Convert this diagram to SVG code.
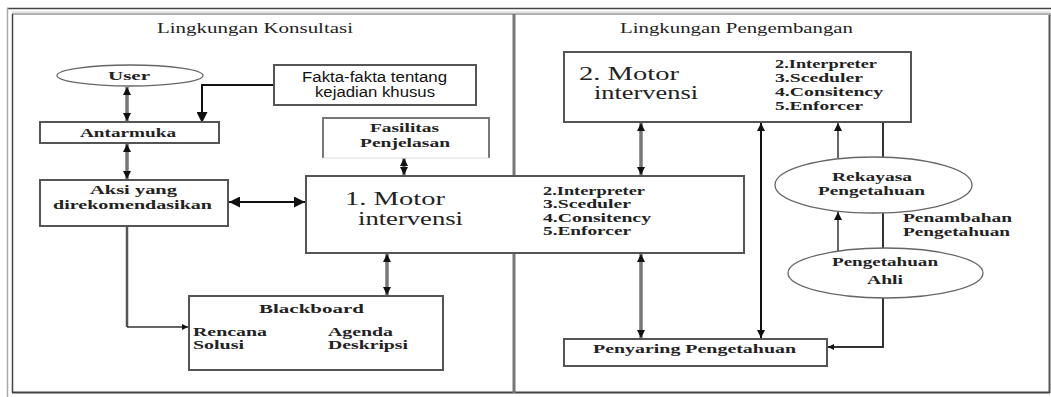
<svg xmlns="http://www.w3.org/2000/svg" width="1051" height="397" viewBox="0 0 1051 397">
<style>
.t{font-family:"Liberation Serif","Times New Roman",serif;fill:#222}
.b{font-weight:bold;font-size:13.5px}
.ttl{font-size:14px}
.big{font-size:18px}
.lst{font-size:13.5px;font-weight:bold}
.sans{font-family:"Liberation Sans",Arial,sans-serif;font-size:14px;fill:#111}
.box{fill:#fff;stroke:#555;stroke-width:2}
.ell{fill:#fff;stroke:#666;stroke-width:1.3}
.dbl{stroke:#777;stroke-width:3.5;fill:none}
.blk{stroke:#111;stroke-width:2;fill:none}
.thin{stroke:#333;stroke-width:1.5;fill:none}
</style>
<defs>
<marker id="ah" viewBox="0 0 10 10" refX="10" refY="5" markerWidth="8" markerHeight="8" markerUnits="userSpaceOnUse" orient="auto-start-reverse"><path d="M0,0 L10,5 L0,10 z" fill="#111"/></marker>
<marker id="ahL" viewBox="0 0 10 10" refX="10" refY="5" markerWidth="11" markerHeight="11" markerUnits="userSpaceOnUse" orient="auto-start-reverse"><path d="M0,0 L10,5 L0,10 z" fill="#111"/></marker>
<marker id="ahS" viewBox="0 0 10 10" refX="10" refY="5" markerWidth="6" markerHeight="6" markerUnits="userSpaceOnUse" orient="auto-start-reverse"><path d="M0,0 L10,5 L0,10 z" fill="#111"/></marker>
</defs>
<rect width="1051" height="397" fill="#fff"/>
<g id="frame">
<line x1="7" y1="8.5" x2="1051" y2="8.5" stroke="#444" stroke-width="1.5"/>
<line x1="7.5" y1="8" x2="7.5" y2="397" stroke="#aaa" stroke-width="1.5"/>
<line x1="12" y1="12" x2="1051" y2="12" stroke="#ccc" stroke-width="1"/>
<line x1="12" y1="14" x2="1051" y2="14" stroke="#999" stroke-width="1.5"/>
<line x1="12.5" y1="14" x2="12.5" y2="393" stroke="#444" stroke-width="1.5"/>
<line x1="1049.5" y1="15" x2="1049.5" y2="393" stroke="#555" stroke-width="2"/>
<line x1="12" y1="392.5" x2="1050" y2="392.5" stroke="#444" stroke-width="2"/>
<line x1="514" y1="14" x2="514" y2="393" stroke="#777" stroke-width="3"/>
<text class="t ttl" x="157" y="33" textLength="196" lengthAdjust="spacingAndGlyphs">Lingkungan Konsultasi</text>
<text class="t ttl" x="620" y="33" textLength="233" lengthAdjust="spacingAndGlyphs">Lingkungan Pengembangan</text>
</g>
<g id="connectors">
<line class="dbl" x1="127" y1="87" x2="127" y2="121" marker-start="url(#ah)" marker-end="url(#ah)"/>
<line class="dbl" x1="127" y1="144" x2="127" y2="179" marker-start="url(#ah)" marker-end="url(#ah)"/>
<path class="blk" d="M274,85 H202 V123" stroke-width="2.5" marker-end="url(#ahL)"/>
<line class="dbl" x1="404" y1="158" x2="404" y2="175" marker-start="url(#ah)" marker-end="url(#ah)"/>
<line class="blk" x1="229" y1="202" x2="305" y2="202" marker-start="url(#ahL)" marker-end="url(#ahL)"/>
<path d="M127,227 V327" stroke="#555" stroke-width="2.5" fill="none"/>
<path class="thin" d="M127,327 H188" marker-end="url(#ahS)"/>
<line class="dbl" x1="387" y1="254" x2="387" y2="295" marker-start="url(#ah)" marker-end="url(#ah)"/>
<line class="dbl" x1="641" y1="123" x2="641" y2="175" marker-start="url(#ah)" marker-end="url(#ah)"/>
<line class="dbl" x1="641" y1="254" x2="641" y2="338" marker-start="url(#ah)" marker-end="url(#ah)"/>
<line class="blk" x1="761" y1="123" x2="761" y2="338" marker-start="url(#ah)" marker-end="url(#ah)"/>
<line class="thin" x1="838" y1="158" x2="838" y2="123" marker-end="url(#ah)"/>
<line x1="883" y1="122" x2="883" y2="157" stroke="#333" stroke-width="2"/>
<line class="thin" x1="838" y1="251" x2="838" y2="212" marker-end="url(#ah)"/>
<line x1="883" y1="213" x2="883" y2="248" stroke="#333" stroke-width="2"/>
<path d="M883,298 V347 H828" stroke="#333" stroke-width="2" fill="none" marker-end="url(#ahS)"/>
</g>
<g id="user">
<ellipse class="ell" cx="130" cy="75.5" rx="73" ry="10.5"/>
<text class="t b" x="108" y="80" textLength="42" lengthAdjust="spacingAndGlyphs">User</text>
</g>
<g id="fakta">
<rect class="box" x="274" y="65" width="202" height="40" stroke="#111"/>
<text class="sans" x="302" y="82" textLength="145" lengthAdjust="spacingAndGlyphs">Fakta-fakta tentang</text>
<text class="sans" x="315" y="97" textLength="120" lengthAdjust="spacingAndGlyphs">kejadian khusus</text>
</g>
<g id="antarmuka">
<rect class="box" x="40" y="122" width="179" height="21" stroke="#666" stroke-width="2.5"/>
<text class="t b" x="80" y="137" textLength="96" lengthAdjust="spacingAndGlyphs">Antarmuka</text>
</g>
<g id="fasilitas">
<rect x="323" y="118" width="166" height="40" fill="#fff" stroke="none"/>
<path d="M323,158 V118 H489 V158" fill="none" stroke="#777" stroke-width="2"/>
<line x1="323" y1="158" x2="489" y2="158" stroke="#ddd" stroke-width="1"/>
<text class="t b" x="370" y="132" textLength="69" lengthAdjust="spacingAndGlyphs">Fasilitas</text>
<text class="t b" x="360" y="147" textLength="90" lengthAdjust="spacingAndGlyphs">Penjelasan</text>
</g>
<g id="aksi">
<rect class="box" x="40" y="180" width="188" height="46"/>
<text class="t b" x="90" y="194" textLength="87" lengthAdjust="spacingAndGlyphs">Aksi yang</text>
<text class="t b" x="53" y="209" textLength="159" lengthAdjust="spacingAndGlyphs">direkomendasikan</text>
</g>
<g id="motor1">
<rect class="box" x="306" y="176" width="438" height="77" stroke="#777"/>
<line x1="306" y1="176" x2="744" y2="176" stroke="#555" stroke-width="1.5"/>
<text class="t big" x="345" y="205" textLength="100" lengthAdjust="spacingAndGlyphs">1.  Motor</text>
<text class="t big" x="358" y="225" textLength="105" lengthAdjust="spacingAndGlyphs">intervensi</text>
<text class="t lst" x="543" y="195" textLength="102" lengthAdjust="spacingAndGlyphs">2.Interpreter</text>
<text class="t lst" x="543" y="208" textLength="88" lengthAdjust="spacingAndGlyphs">3.Sceduler</text>
<text class="t lst" x="543" y="222" textLength="108" lengthAdjust="spacingAndGlyphs">4.Consitency</text>
<text class="t lst" x="543" y="235" textLength="88" lengthAdjust="spacingAndGlyphs">5.Enforcer</text>
</g>
<g id="blackboard">
<rect class="box" x="189" y="296" width="254" height="74" stroke="#444"/>
<text class="t b" x="259" y="313" textLength="105" lengthAdjust="spacingAndGlyphs">Blackboard</text>
<text class="t b" x="193" y="336" textLength="74" lengthAdjust="spacingAndGlyphs">Rencana</text>
<text class="t b" x="193" y="349" textLength="51" lengthAdjust="spacingAndGlyphs">Solusi</text>
<text class="t b" x="328" y="336" textLength="65" lengthAdjust="spacingAndGlyphs">Agenda</text>
<text class="t b" x="328" y="349" textLength="80" lengthAdjust="spacingAndGlyphs">Deskripsi</text>
</g>
<g id="motor2">
<rect class="box" x="564" y="52" width="347" height="70" stroke="#555"/>
<text class="t big" x="579" y="80" textLength="100" lengthAdjust="spacingAndGlyphs">2.  Motor</text>
<text class="t big" x="594" y="99" textLength="104" lengthAdjust="spacingAndGlyphs">intervensi</text>
<text class="t lst" x="775" y="68" textLength="102" lengthAdjust="spacingAndGlyphs">2.Interpreter</text>
<text class="t lst" x="775" y="82" textLength="88" lengthAdjust="spacingAndGlyphs">3.Sceduler</text>
<text class="t lst" x="775" y="96" textLength="108" lengthAdjust="spacingAndGlyphs">4.Consitency</text>
<text class="t lst" x="775" y="110" textLength="88" lengthAdjust="spacingAndGlyphs">5.Enforcer</text>
</g>
<g id="rekayasa">
<ellipse class="ell" cx="873.5" cy="185" rx="98.5" ry="28"/>
<text class="t b" x="832" y="181" textLength="80" lengthAdjust="spacingAndGlyphs">Rekayasa</text>
<text class="t b" x="818" y="195" textLength="107" lengthAdjust="spacingAndGlyphs">Pengetahuan</text>
</g>
<g id="penambahan">
<text class="t b" x="903" y="222" textLength="109" lengthAdjust="spacingAndGlyphs">Penambahan</text>
<text class="t b" x="903" y="236" textLength="107" lengthAdjust="spacingAndGlyphs">Pengetahuan</text>
</g>
<g id="ahli">
<ellipse class="ell" cx="885.5" cy="273" rx="97.5" ry="25"/>
<text class="t b" x="832" y="266" textLength="106" lengthAdjust="spacingAndGlyphs">Pengetahuan</text>
<text class="t b" x="867" y="284" textLength="36" lengthAdjust="spacingAndGlyphs">Ahli</text>
</g>
<g id="penyaring">
<rect class="box" x="564" y="339" width="263" height="27" stroke="#555"/>
<text class="t b" x="593" y="353" textLength="203" lengthAdjust="spacingAndGlyphs">Penyaring  Pengetahuan</text>
</g>
</svg>
